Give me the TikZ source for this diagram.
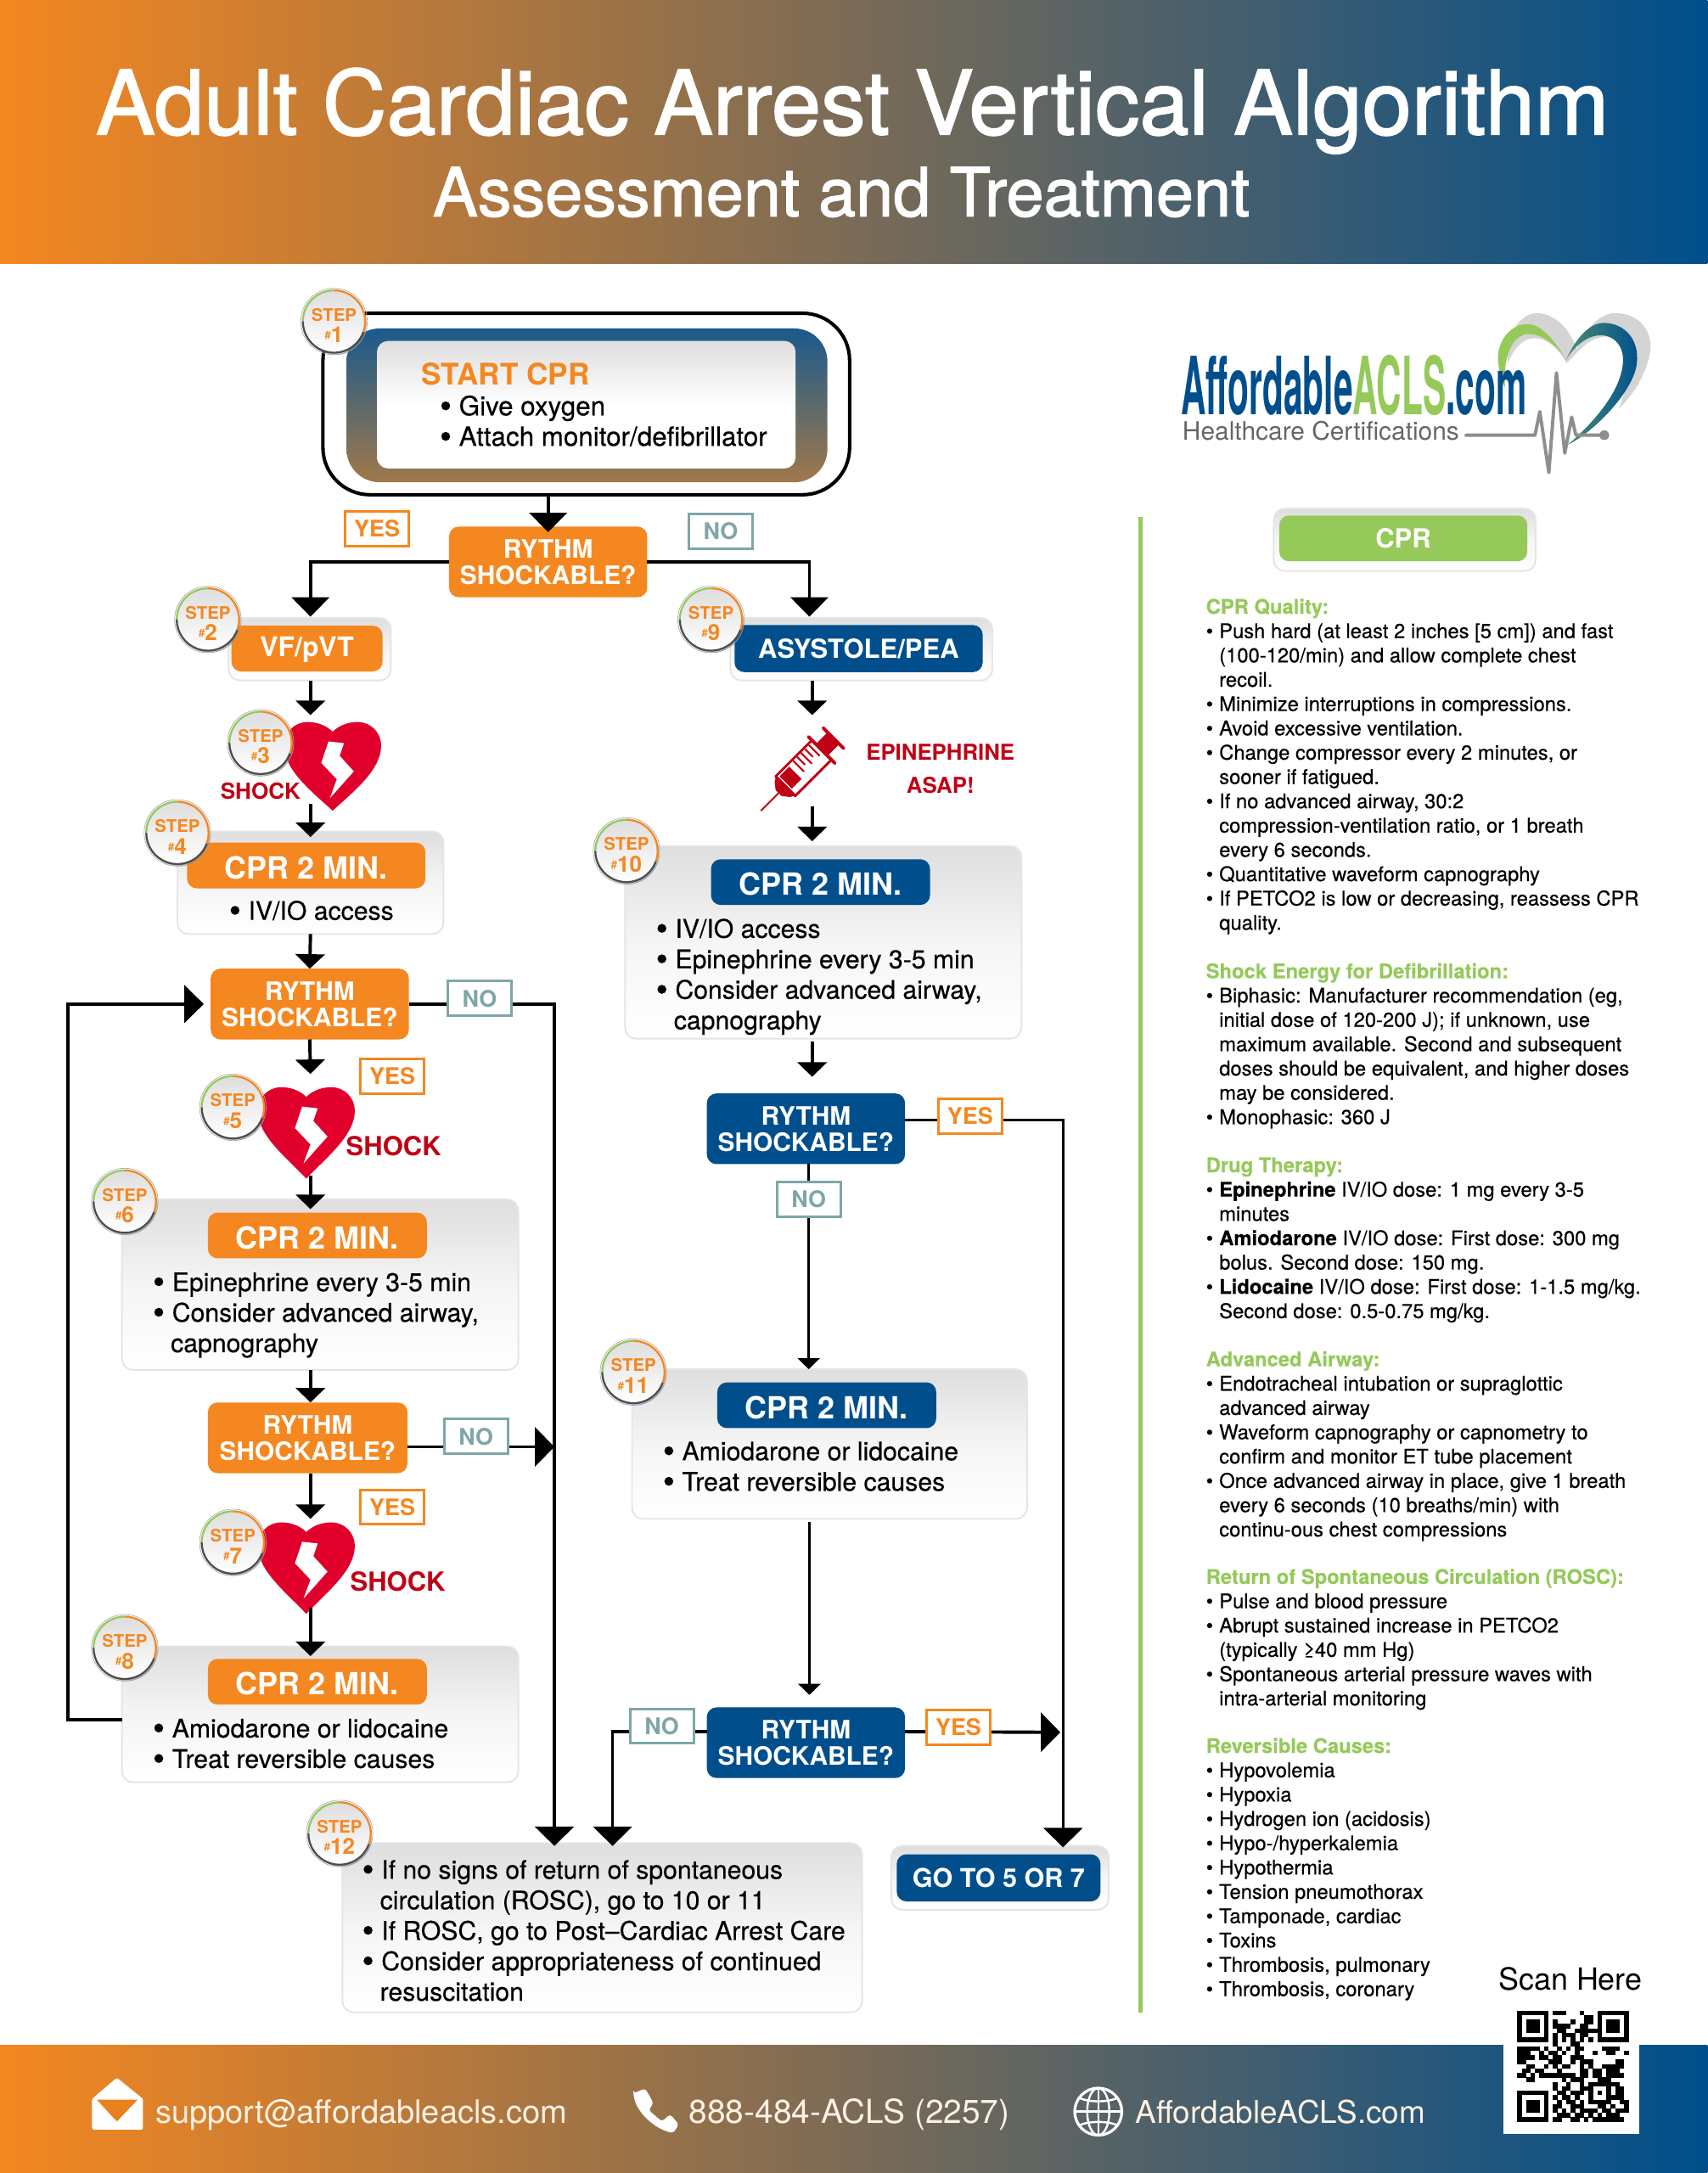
\documentclass[tikz,border=0pt]{standalone}
\usepackage{fontspec}
\setmainfont{TeX Gyre Heros}
\newfontfamily\titlefont[FakeBold=1.6]{TeX Gyre Heros}
\newfontfamily\bodyfont[FakeBold=0.4,BoldFont={TeX Gyre Heros Bold}]{TeX Gyre Heros}
\usetikzlibrary{arrows.meta,shadows}
\definecolor{acorange}{HTML}{F58720}
\definecolor{acblue}{HTML}{004F8C}
\definecolor{acgreen}{HTML}{95C95A}
\definecolor{acred}{HTML}{C00015}
\definecolor{heartred}{HTML}{E0002B}
\definecolor{acteal}{HTML}{7FA6A6}
\definecolor{cardtop}{HTML}{DEDEDE}
\definecolor{cardmid}{HTML}{F5F5F5}
\definecolor{ecggray}{HTML}{8E8E90}
\definecolor{bandtop}{HTML}{1A5A8C}
\definecolor{bandbottom}{HTML}{A0784A}
\newcommand{\cbul}{\makebox[14pt][l]{\raisebox{-1.8pt}{\fontsize{25}{25}\selectfont\textbullet}}}
\newcommand{\cind}{\hspace*{13pt}}
\newcommand{\pbul}{\makebox[9.5pt][l]{\textbullet}}
\newcommand{\pind}{\hspace*{9.5pt}}
\newcommand{\phead}[1]{{\bfseries\color{acgreen}#1}}
\newcount\qrc
\def\qrscan#1{\ifx#1.\else\ifx#11\fill (\the\qrc,\qrr) rectangle +(1.04,1.04);\fi\advance\qrc by 1 \expandafter\qrscan\fi}
\tikzset{
	stepdisc/.style={circle,minimum size=45pt,inner sep=0pt,outer sep=0pt,align=center,text=acorange,font=\bfseries,
		top color=cardtop,bottom color=white,drop shadow={shadow xshift=1pt,shadow yshift=-1.5pt,opacity=.4}},
	cardbox/.style={rounded corners=8pt,inner sep=0pt,outer sep=0pt,draw=black!10,line width=1.2pt,top color=cardtop,bottom color=white,middle color=cardmid},
	orangepill/.style={rounded corners=7pt,inner sep=0pt,outer sep=0pt,fill=acorange,text=white,align=center,font=\bfseries},
	bluepill/.style={orangepill,fill=acblue},
	pilltitle/.style={font=\fontsize{22}{22}\bfseries\selectfont,text height=19pt,text depth=0pt},
	asktext/.style={font=\fontsize{18.3}{19}\bfseries\selectfont,minimum width=143pt,minimum height=51pt},
	bodytext/.style={anchor=north west,inner sep=0pt,align=left,font=\fontsize{18.5}{22}\bodyfont\selectfont},
	paneltext/.style={anchor=north west,inner sep=0pt,align=left,font=\fontsize{14.55}{17.54}\bodyfont\selectfont},
	yeslabel/.style={draw=acorange,line width=1.8pt,fill=white,text=acorange,inner sep=0pt,minimum width=46pt,minimum height=25pt,font=\fontsize{16.5}{17}\bfseries\selectfont},
	nolabel/.style={yeslabel,draw=acteal,text=acteal},
	shocktext/.style={text=acred,inner sep=0pt,font=\fontsize{19}{19}\bfseries\selectfont},
	footertext/.style={anchor=base west,inner sep=0pt,text=white!88!acorange},
	bigarrow/.style={line width=2.4pt,-{Triangle[length=14pt,width=27pt]}},
	smallarrow/.style={line width=2.4pt,-{Triangle[length=10.5pt,width=21pt]}},
	thinarrow/.style={line width=1.6pt,-{Triangle[length=8pt,width=16pt]}},
}
\newcommand{\stepmark}[3]{%
	\draw[black!35,line width=.4pt] (#2) circle[radius=24pt];
	\node[stepdisc] at (#2) (#1) {\rule{0pt}{15pt}\fontsize{12.5}{12}\selectfont STEP\\[3.5pt]{\fontsize{8}{8}\selectfont\raisebox{2.5pt}{\#}}{\fontsize{16}{16}\selectfont #3}};
	\draw[acgreen,line width=1.4pt] (#1.180) arc[start angle=180,end angle=90,radius=22.5pt];
	\draw[acorange,line width=1.4pt] (#1.90) arc[start angle=90,end angle=-20,radius=22.5pt];
	\draw[black!70,line width=1.4pt] (#1.-20) arc[start angle=-20,end angle=-180,radius=22.5pt];
}
\newcommand{\shockheart}[2]{%
	\begin{scope}[shift={(#1)}]
		\fill[heartred] (0,0) .. controls (-5,-5) and (-12,-7) .. (-18,-7) .. controls (-28,-7) and (-35,1) .. (-35,10)
			.. controls (-35,28) and (-14,44) .. (0,#2) .. controls (14,44) and (35,28) .. (35,10)
			.. controls (35,1) and (28,-7) .. (18,-7) .. controls (12,-7) and (5,-5) .. (0,0) -- cycle;
		\fill[white] (-3,7) -- (8.2,8.2) -- (5.1,17.4) -- (15.3,28.6) -- (-2,48) -- (3,34.3) -- (-8.2,22.5) -- cycle;
	\end{scope}
}
\begin{document}
\begin{tikzpicture}[x=1pt,y=-1pt]
	\useasboundingbox (0,0) rectangle (1232,1568);
	% bands
	\shade[left color=acorange,right color=acblue] (0,0) rectangle (1232,190);
	\shade[left color=acorange,right color=acblue] (0,1476) rectangle (1232,1568);
	\node[anchor=base,text=white,inner sep=0pt,font=\fontsize{64.2}{67}\titlefont\selectfont] at (615,97) (maintitle) {Adult Cardiac Arrest Vertical Algorithm};
	\node[anchor=base,text=white,inner sep=0pt,font=\fontsize{48.6}{50}\titlefont\selectfont] at (607,156) (subtitle) {Assessment and Treatment};

	% left column
	\node[draw=black,line width=2.5pt,rounded corners=34pt,minimum width=380pt,minimum height=131pt,inner sep=0pt] at (423,291.5) (startframe) {};
	\node[rounded corners=24pt,top color=bandtop,bottom color=bandbottom,minimum width=347pt,minimum height=111pt,inner sep=0pt] at (423.5,292.5) (startband) {};
	\node[cardbox,draw=none,middle color=white,minimum width=302pt,minimum height=92pt] at (423,292) (startcard) {};
	\node[anchor=west,inner sep=0pt,text=acorange,font=\fontsize{21.5}{21}\bfseries\selectfont] at (304,270) (starthead) {START CPR};
	\node[bodytext,font=\fontsize{19.2}{22}\bodyfont\selectfont] at (317,284.1) (starttext) {\strut\cbul Give oxygen\\\cbul Attach monitor/defibrillator};

	\node[orangepill,asktext] at (395.5,405.5) (rythmone) {RYTHM\\SHOCKABLE?};
	\node[cardbox,minimum width=117pt,minimum height=45pt] at (223.5,468.5) (vfcard) {};
	\node[orangepill,minimum width=109pt,minimum height=33pt,font=\fontsize{19.5}{21}\bfseries\selectfont,text height=14pt,text depth=2pt] at (221.5,468) (vfpill) {VF/pVT};
	\shockheart{240,528}{57}
	\node[shocktext,font=\fontsize{16}{17}\bfseries\selectfont] at (188,571) (shockthree) {SHOCK};

	\node[cardbox,minimum width=192pt,minimum height=74pt] at (224,637) (cprfour) {};
	\node[orangepill,pilltitle,minimum width=172pt,minimum height=33pt] at (221,624.5) (pillfour) {CPR 2 MIN.};
	\node[bodytext] at (165,648.1) (textfour) {\strut\cbul IV/IO access};

	\node[orangepill,asktext] at (223.5,724.5) (rythmtwo) {RYTHM\\SHOCKABLE?};
	\shockheart{221,791.5}{59}
	\node[shocktext] at (284,827) (shockfive) {SHOCK};

	\node[cardbox,minimum width=286pt,minimum height=123pt] at (231,927) (cprsix) {};
	\node[orangepill,pilltitle,minimum width=158pt,minimum height=33pt] at (229,891.5) (pillsix) {CPR 2 MIN.};
	\node[bodytext] at (110,916.1) (textsix) {\strut\cbul Epinephrine every 3-5 min\\\cbul Consider advanced airway,\\\cind capnography};

	\node[orangepill,asktext,minimum width=144pt] at (222,1037.5) (rythmthree) {RYTHM\\SHOCKABLE?};
	\shockheart{221,1105.5}{59}
	\node[shocktext] at (287,1141) (shockseven) {SHOCK};

	\node[cardbox,minimum width=286pt,minimum height=98pt] at (231,1237) (cpreight) {};
	\node[orangepill,pilltitle,minimum width=158pt,minimum height=33pt] at (229,1213.5) (pilleight) {CPR 2 MIN.};
	\node[bodytext] at (110,1238.1) (texteight) {\strut\cbul Amiodarone or lidocaine\\\cbul Treat reversible causes};

	% right column
	\node[cardbox,minimum width=189pt,minimum height=45pt] at (621.5,468.5) (asyscard) {};
	\node[bluepill,minimum width=179pt,minimum height=34pt,font=\fontsize{19}{20}\bfseries\selectfont] at (619.5,468) (asyspill) {ASYSTOLE/PEA};

	% syringe
	\begin{scope}[shift={(549,585)},rotate=45,acred]
		\draw[line width=1.2pt] (0,0) -- (19,0);
		\fill (18,-3) -- (22,-8) -- (26,-10) -- (26,10) -- (22,8) -- (18,3) -- cycle;
		\draw[line width=1.8pt,line join=round] (25,-10) rectangle (62,10);
		\fill (27,-8) rectangle (37,4.5);
		\draw[white,line width=.8pt] (27,5.5) -- (37,5.5);
		\draw[line width=1.3pt] (42,-9) -- (42,2) (46,-9) -- (46,-1) (50,-9) -- (50,2) (54,-9) -- (54,-1) (58,-9) -- (58,2);
		\draw[line width=2.4pt,line cap=round] (62,-13.5) -- (62,13.5);
		\fill (62,-6) rectangle (73,6);
		\draw[line width=2.4pt,line cap=round] (74,-10.5) -- (74,10.5);
	\end{scope}
	\coordinate (syringein) at (586,516);
	\coordinate (syringeout) at (586,582);
	\coordinate (syringeend) at (586,607);
	\node[inner sep=0pt,align=center,text=acred,font=\fontsize{15.8}{24}\bfseries\selectfont] at (678.5,555) (epitext) {EPINEPHRINE\\ASAP!};

	\node[cardbox,minimum width=286pt,minimum height=139pt] at (594,680) (cprten) {};
	\node[bluepill,pilltitle,minimum width=158pt,minimum height=33pt] at (592,636.5) (pillten) {CPR 2 MIN.};
	\node[bodytext] at (473,661.1) (textten) {\strut\cbul IV/IO access\\\cbul Epinephrine every 3-5 min\\\cbul Consider advanced airway,\\\cind capnography};

	\node[bluepill,asktext] at (581.5,814.5) (rythmfour) {RYTHM\\SHOCKABLE?};

	\node[cardbox,minimum width=285pt,minimum height=108pt] at (598.5,1042) (cpreleven) {};
	\node[bluepill,pilltitle,minimum width=158pt,minimum height=33pt] at (596.5,1014) (pilleleven) {CPR 2 MIN.};
	\node[bodytext] at (478,1038.1) (texteleven) {\strut\cbul Amiodarone or lidocaine\\\cbul Treat reversible causes};

	\node[bluepill,asktext] at (581.5,1257.5) (rythmfive) {RYTHM\\SHOCKABLE?};

	\node[cardbox,minimum width=375pt,minimum height=122pt] at (434.5,1391) (rosccard) {};
	\node[bodytext] at (261,1340.1) (rosctext) {\strut\cbul If no signs of return of spontaneous\\\cind circulation (ROSC), go to 10 or 11\\\cbul If ROSC, go to Post–Cardiac Arrest Care\\\cbul Consider appropriateness of continued\\\cind resuscitation};

	\node[cardbox,minimum width=157pt,minimum height=46pt] at (721.5,1355) (gotocard) {};
	\node[bluepill,minimum width=147pt,minimum height=34pt,font=\fontsize{18.7}{20}\bfseries\selectfont] at (720.5,1355) (gotopill) {GO TO 5 OR 7};

	% connectors
	\coordinate (asysin) at (584,445);
	\coordinate (vfin) at (224,445);
	\coordinate (heartthreein) at (224,516);
	\coordinate (heartthreeout) at (224,580);
	\coordinate (heartfivein) at (224,775);
	\coordinate (heartfiveout) at (224,848);
	\coordinate (heartsevenin) at (224,1096);
	\coordinate (heartsevenout) at (224,1160);
	\coordinate (looptop) at (49,724.5);
	\coordinate (roscright) at (400,1332);
	\coordinate (roscleft) at (442,1332);
	\coordinate (gotoin) at (767,1333);
	\coordinate (yesjoin) at (765,1250);
	\draw[bigarrow,shorten >=-4pt] (rythmone.north |- startframe.south) -- (rythmone.north);
	\draw[bigarrow] (rythmone.west) -| (vfin);
	\draw[bigarrow] (rythmone.east) -| (asysin);
	\draw[smallarrow] (vfcard.south -| vfin) -- (heartthreein);
	\draw[smallarrow,shorten >=-4pt] (heartthreeout) -- (heartthreeout |- cprfour.north);
	\draw[smallarrow] (cprfour.south) -- (rythmtwo.north);
	\draw[smallarrow] (rythmtwo.south) -- (heartfivein);
	\draw[smallarrow,shorten >=-7pt] (heartfiveout) -- (heartfiveout |- cprsix.north);
	\draw[smallarrow] (heartfiveout |- cprsix.south) -- (heartfiveout |- rythmthree.north);
	\draw[smallarrow] (heartfiveout |- rythmthree.south) -- (heartsevenin);
	\draw[smallarrow,shorten >=-7pt] (heartsevenout) -- (heartsevenout |- cpreight.north);
	\draw[bigarrow,shorten >=5pt] ([yshift=-4pt]cpreight.west) -| (looptop) -- (rythmtwo.west);
	\draw[line width=2.2pt,-{Triangle[length=14pt,width=28pt]}] (rythmtwo.east) -| (roscright);
	\draw[line width=2.4pt,-{Triangle[length=14pt,width=28pt]}] ([yshift=-6.5pt]rythmthree.east) -- ([yshift=-6.5pt]rythmthree.east -| roscright);
	\draw[smallarrow] (syringein |- asyscard.south) -- (syringein);
	\draw[smallarrow] (syringeout) -- (syringeend);
	\draw[smallarrow,shorten <=2pt,shorten >=12pt] (syringein |- cprten.south) -- (syringein |- rythmfour.north);
	\draw[line width=2pt,-{Triangle[length=14pt,width=28pt]}] ([yshift=6.5pt]rythmfour.east) -| (gotoin);
	\draw[thinarrow] ([xshift=2pt]rythmfour.south) -- ([xshift=2pt]rythmfour.south |- cpreleven.north);
	\draw[thinarrow,shorten <=2pt,shorten >=9pt] ([xshift=2.5pt]rythmfive.north |- cpreleven.south) -- ([xshift=2.5pt]rythmfive.north);
	\draw[line width=2.2pt,-{Triangle[length=14pt,width=28pt]}] ([yshift=8pt]rythmfive.west) -| (roscleft);
	\draw[line width=2.4pt,-{Triangle[length=14pt,width=28pt]}] ([yshift=8pt]rythmfive.east) -- (yesjoin);

	% yes and no
	\node[yeslabel] at (272,381.5) (yesone) {YES};
	\node[nolabel] at (520,383.5) (noone) {NO};
	\node[nolabel] at (346,720.5) (notwo) {NO};
	\node[yeslabel] at (283,776.5) (yestwo) {YES};
	\node[nolabel] at (343.5,1036.5) (nothree) {NO};
	\node[yeslabel] at (283,1087.5) (yesthree) {YES};
	\node[yeslabel] at (700,805.5) (yesfour) {YES};
	\node[nolabel] at (583.5,865.5) (nofour) {NO};
	\node[nolabel] at (477.5,1245.5) (nofive) {NO};
	\node[yeslabel] at (691.5,1246.5) (yesfive) {YES};

	% step marks
	\stepmark{stepone}{241,232}{1}
	\stepmark{steptwo}{150,447}{2}
	\stepmark{stepthree}{188,536}{3}
	\stepmark{stepfour}{128,601}{4}
	\stepmark{stepfive}{168,799}{5}
	\stepmark{stepsix}{90,867}{6}
	\stepmark{stepseven}{168,1113}{7}
	\stepmark{stepeight}{90,1189}{8}
	\stepmark{stepnine}{513,447}{9}
	\stepmark{stepten}{452,614}{10}
	\stepmark{stepeleven}{457,990}{11}
	\stepmark{steptwelve}{245,1323}{12}

	% logo
	\fill[black!17] (1088,262) .. controls (1086,240) and (1098,225) .. (1110,226) .. controls (1124,227) and (1134,240) .. (1137.5,252)
		.. controls (1145,235) and (1156,225) .. (1167,226) .. controls (1184,227) and (1193,240) .. (1190.5,255)
		.. controls (1187,272) and (1178,285) .. (1168,295) .. controls (1178,270) and (1175,245) .. (1160,243)
		.. controls (1145,242) and (1136,258) .. (1130,262) .. controls (1122,245) and (1100,232) .. (1088,262) -- cycle;
	\fill[acgreen] (1130,259.5) .. controls (1122,246) and (1112,234) .. (1103,234) .. controls (1090,233) and (1079,247) .. (1081,262)
		.. controls (1082,270) and (1084,276) .. (1086,280) .. controls (1084,258) and (1091,241) .. (1103,241) .. controls (1113,241) and (1124,250) .. (1130,259.5) -- cycle;
	\shade[left color=acgreen!50!acblue,middle color=acblue!90!acgreen,right color=acblue] (1130,259.5) .. controls (1136,246) and (1146,233) .. (1157,233) .. controls (1172,233) and (1183,245) .. (1181,262)
		.. controls (1179,282) and (1150,312) .. (1131,321) .. controls (1150,305) and (1172,280) .. (1171,258) .. controls (1170,246) and (1161,241) .. (1153,242) .. controls (1144,243) and (1136,250) .. (1130,259.5) -- cycle;
	\node[anchor=base west,inner sep=0pt,font=\fontsize{58}{58}\bfseries\selectfont] at (852,299) (logotext) {\scalebox{.43}[1]{\color{acblue}Affordable\color{acgreen}ACLS\color{acblue}.com}};
	\node[anchor=base west,inner sep=0pt,text=black!60,font=\fontsize{18.3}{18.3}\selectfont] at (853,317.5) (logosub) {Healthcare Certifications};
	\draw[ecggray,line width=2.4pt,line join=round,line cap=round] (1057.5,314) -- (1107.5,314) -- (1111,297) -- (1117.5,341) -- (1123,269) -- (1129,327) -- (1134,301) -- (1137,314) -- (1157.5,314);
	\fill[ecggray] (1157.5,314) circle[radius=3.5pt];

	% panel
	\fill[acgreen] (821.5,373) rectangle (824.5,1452);
	\node[cardbox,minimum width=189pt,minimum height=45pt] at (1013.5,389.5) (panelcard) {};
	\node[orangepill,fill=acgreen,minimum width=179pt,minimum height=33pt,font=\fontsize{19}{20}\bfseries\selectfont] at (1012.5,388.5) (panelpill) {CPR};
	\node[paneltext] at (870,430.4) (quality) {\strut\phead{CPR Quality:}\\
		\pbul Push hard (at least 2 inches [5 cm]) and fast\\
		\pind (100-120/min) and allow complete chest\\
		\pind recoil.\\
		\pbul Minimize interruptions in compressions.\\
		\pbul Avoid excessive ventilation.\\
		\pbul Change compressor every 2 minutes, or\\
		\pind sooner if fatigued.\\
		\pbul If no advanced airway, 30:2\\
		\pind compression-ventilation ratio, or 1 breath\\
		\pind every 6 seconds.\\
		\pbul Quantitative waveform capnography\\
		\pbul If PETCO2 is low or decreasing, reassess CPR\\
		\pind quality.};
	\node[paneltext] at (870,693.4) (energy) {\strut\phead{Shock Energy for Defibrillation:}\\
		\pbul Biphasic: Manufacturer recommendation (eg,\\
		\pind initial dose of 120-200 J); if unknown, use\\
		\pind maximum available. Second and subsequent\\
		\pind doses should be equivalent, and higher doses\\
		\pind may be considered.\\
		\pbul Monophasic: 360 J};
	\node[paneltext] at (870,833.4) (drugs) {\strut\phead{Drug Therapy:}\\
		\pbul \textbf{Epinephrine} IV/IO dose: 1 mg every 3-5\\
		\pind minutes\\
		\pbul \textbf{Amiodarone} IV/IO dose: First dose: 300 mg\\
		\pind bolus. Second dose: 150 mg.\\
		\pbul \textbf{Lidocaine} IV/IO dose: First dose: 1-1.5 mg/kg.\\
		\pind Second dose: 0.5-0.75 mg/kg.};
	\node[paneltext] at (870,973.4) (airway) {\strut\phead{Advanced Airway:}\\
		\pbul Endotracheal intubation or supraglottic\\
		\pind advanced airway\\
		\pbul Waveform capnography or capnometry to\\
		\pind confirm and monitor ET tube placement\\
		\pbul Once advanced airway in place, give 1 breath\\
		\pind every 6 seconds (10 breaths/min) with\\
		\pind continu-ous chest compressions};
	\node[paneltext] at (870,1130.4) (rosc) {\strut\phead{Return of Spontaneous Circulation (ROSC):}\\
		\pbul Pulse and blood pressure\\
		\pbul Abrupt sustained increase in PETCO2\\
		\pind (typically ≥40 mm Hg)\\
		\pbul Spontaneous arterial pressure waves with\\
		\pind intra-arterial monitoring};
	\node[paneltext] at (870,1252.4) (causes) {\strut\phead{Reversible Causes:}\\
		\pbul Hypovolemia\\
		\pbul Hypoxia\\
		\pbul Hydrogen ion (acidosis)\\
		\pbul Hypo-/hyperkalemia\\
		\pbul Hypothermia\\
		\pbul Tension pneumothorax\\
		\pbul Tamponade, cardiac\\
		\pbul Toxins\\
		\pbul Thrombosis, pulmonary\\
		\pbul Thrombosis, coronary};

	% footer
	\fill[white,rounded corners=1pt] (66.4,1514.5) -- (84.3,1499.2) -- (103.2,1514.5) -- (103.2,1536.6) -- (66.4,1536.6) -- cycle;
	\fill[acorange!95!black] (69.8,1515) -- (99.4,1515) -- (84.3,1530.8) -- cycle;
	\node[footertext,font=\fontsize{23.3}{24}\selectfont] at (112,1532) (mailtext) {support@affordableacls.com};
	\fill[white,rounded corners=2pt] (457,1510.5) -- (465.5,1507) -- (471.5,1517.5) -- (468,1522.6) -- (477.6,1530.8) -- (483.5,1525.6) -- (489.7,1532.8) -- (486,1539)
		.. controls (474,1537) and (459,1525) .. (457,1510.5) -- cycle;
	\node[footertext,font=\fontsize{23.8}{24}\selectfont] at (497,1532) (phonetext) {888-484-ACLS (2257)};
	\begin{scope}[white,line width=1.5pt]
		\draw[line width=2pt] (792.4,1523.7) circle[radius=17pt];
		\draw (792.4,1523.7) ellipse[x radius=8pt,y radius=17pt];
		\draw (792.4,1506.7) -- (792.4,1540.7);
		\draw[line width=2pt] (775.4,1523.7) -- (809.4,1523.7);
		\draw (779,1514) .. controls (786,1517) and (799,1517) .. (806,1514);
		\draw (779,1533.4) .. controls (786,1530.4) and (799,1530.4) .. (806,1533.4);
	\end{scope}
	\node[footertext,font=\fontsize{22.6}{24}\selectfont] at (819,1532) (webtext) {AffordableACLS.com};

	% scan box
	\node[inner sep=0pt,font=\fontsize{22}{22}\selectfont] at (1133,1428) (scantext) {Scan Here};
	\fill[white] (1084.6,1445) rectangle (1183,1539.5);
	\begin{scope}[shift={(1094.7,1450.8)},x=3.21pt,y=-3.21pt]
		\foreach \qrrow [count=\qrr from 0] in {
			1111111011100010001111111,1000001000000001101000001,1011101010001001101011101,1011101011110011001011101,
			1011101001100111111011101,1000001010111011001000001,1111111010101010101111111,0000000010001100000000000,
			1111101001010110000111100,1110010110100100010011001,1111011011001110000000000,1100000111001011100000110,
			0011001010110010100111110,0110110001000011011011100,1101011111111011011011110,0011000000101110001110000,
			0000000010010010111111100,0000000010110011100010110,1111111001101110101010110,1000001010110100100011110,
			1011101001011010111110011,1011101011001110001101001,1011101010101011110110111,1000001001110110101011100,
			1111111011001101011111110}{\qrc=0 \expandafter\qrscan\qrrow.}
	\end{scope}
\end{tikzpicture}
\end{document}
